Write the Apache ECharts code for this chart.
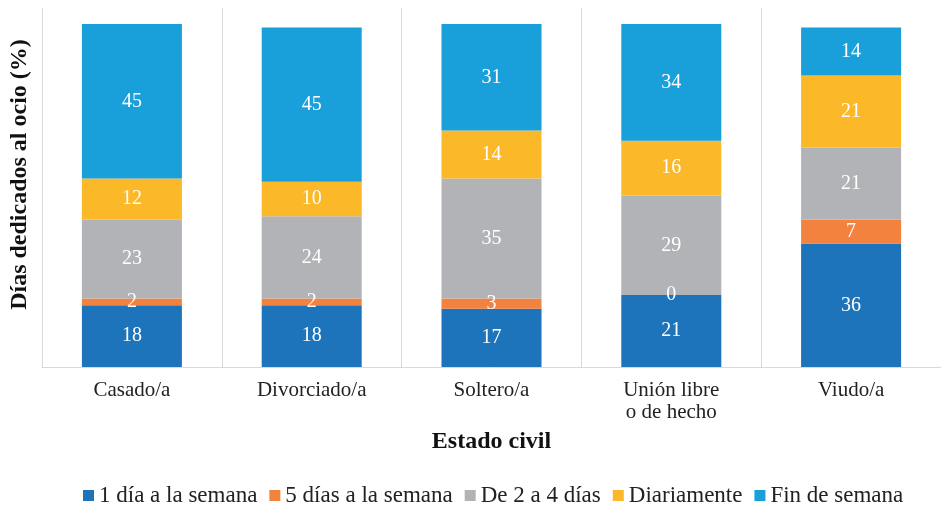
<!DOCTYPE html>
<html>
<head>
<meta charset="utf-8">
<script src="https://cdn.jsdelivr.net/npm/echarts@6/dist/echarts.min.js"></script>
<style>
  html, body { margin: 0; padding: 0; background: #fff; }
  #chart { width: 941px; height: 506px; }
</style>
</head>
<body>
<div id="chart"></div>
<script>
// 数据
const categories = ['Casado/a', 'Divorciado/a', 'Soltero/a', 'Unión libre\no de hecho', 'Viudo/a']
const seriesNames = ['1 día a la semana', '5 días a la semana', 'De 2 a 4 días', 'Diariamente', 'Fin de semana']
const unDia = [18, 18, 17, 21, 36]
const cincoDias = [2, 2, 3, 0, 7]
const deDosACuatro = [23, 24, 35, 29, 21]
const diariamente = [12, 10, 14, 16, 21]
const finDeSemana = [45, 45, 31, 34, 14]
const colors = ['#1D74BB', '#F3823F', '#B2B3B6', '#FBB828', '#199FDA']

const font = 'Liberation Serif'
const values = [unDia, cincoDias, deDosACuatro, diariamente, finDeSemana]

let chart = echarts.init(document.getElementById('chart'))
let series = []
for (let i = 0; i < seriesNames.length; i++) {
    series.push({
        name: seriesNames[i],
        type: 'bar',
        stack: 'total',
        barWidth: 100,
        data: values[i],
        itemStyle: { color: colors[i] },
        label: {
            show: true,
            position: 'inside',
            color: '#fff',
            fontFamily: font,
            fontSize: 20
        }
    })
}

let option = {
    animation: false,
    grid: { left: 38, right: 0, top: 8, bottom: 139 },
    legend: {
        top: 479,
        left: 78,
        itemWidth: 11,
        itemHeight: 11,
        itemGap: 12,
        icon: 'rect',
        data: seriesNames,
        textStyle: { fontFamily: font, fontSize: 23, color: '#222' }
    },
    xAxis: {
        type: 'category',
        data: categories,
        name: 'Estado civil',
        nameLocation: 'middle',
        nameGap: 63,
        nameTextStyle: { fontFamily: font, fontSize: 24, fontWeight: 'bold', color: '#111' },
        axisLine: { lineStyle: { color: '#d9d9d9', width: 1 } },
        axisTick: { show: false },
        axisLabel: { fontFamily: font, fontSize: 21, color: '#222', margin: 12, lineHeight: 22 },
        splitLine: { show: true, lineStyle: { color: '#d9d9d9', width: 1 } }
    },
    yAxis: {
        type: 'value',
        min: 0,
        max: 104.7,
        name: 'Días dedicados al ocio (%)',
        nameLocation: 'middle',
        nameGap: 10,
        nameTextStyle: { fontFamily: font, fontSize: 24, fontWeight: 'bold', color: '#111', padding: [0, 0, 0, 26] },
        axisLine: { show: true, lineStyle: { color: '#d9d9d9' } },
        axisLabel: { show: false },
        axisTick: { show: false },
        splitLine: { show: false }
    },
    series: series
}
chart.setOption(option)
</script>
</body>
</html>
